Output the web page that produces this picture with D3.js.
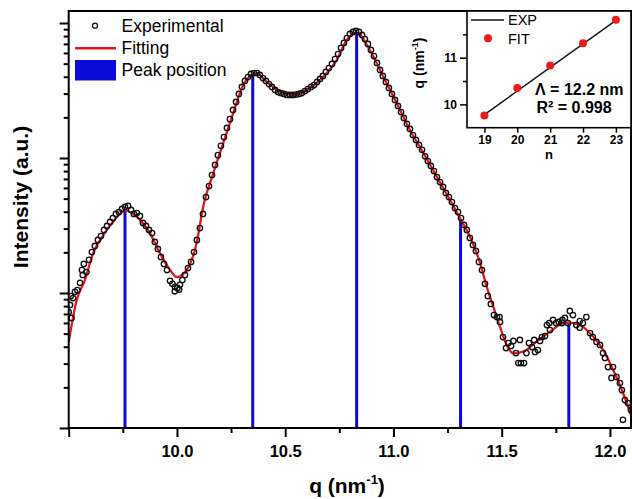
<!DOCTYPE html>
<html>
<head>
<meta charset="utf-8">
<script src="https://cdn.jsdelivr.net/npm/d3@7"></script>
<style>
  body { margin: 0; background: #fff; }
  svg { display: block; font-family: "Liberation Sans", Arial, sans-serif; }
  .axis path, .axis line { stroke: #000; }
</style>
</head>
<body>
<div id="board"></div>
<script>
// fitted curve (q in nm^-1, intensity a.u.)
var fitQ = [9.50, 9.537, 9.575, 9.613, 9.66, 9.706, 9.76, 9.829, 9.875, 9.921, 9.968, 10.0, 10.045, 10.091, 10.121,
  10.168, 10.214, 10.26, 10.306, 10.345, 10.368, 10.414, 10.476, 10.537, 10.599, 10.676, 10.738, 10.784, 10.83,
  10.891, 10.953, 11.015, 11.076, 11.138, 11.2, 11.261, 11.312, 11.353, 11.4, 11.431, 11.461, 11.492, 11.523,
  11.553, 11.6, 11.661, 11.723, 11.784, 11.807, 11.861, 11.908, 11.969, 12.015, 12.061, 12.1];
var fitI = [4.34, 8.87, 12.5, 19.8, 26.9, 33.8, 40.7, 34.8, 27.8, 19.8, 14.8, 13.1, 14.8, 23.5, 43.4,
  77.4, 129, 215, 347, 412, 424, 367, 310, 293, 319, 400, 532, 748, 847,
  631, 400, 255, 161, 109, 72.7, 48.9, 34.8, 26.1, 16.7, 11.1, 7.92, 5.63, 4.12,
  3.58, 3.68, 4.36, 5.17, 5.97, 6.03, 5.79, 5.03, 3.78, 2.69, 1.81, 1.21];

// experimental points
var expQ = [9.500, 9.506, 9.513, 9.520, 9.529, 9.540, 9.552, 9.561, 9.570, 9.582, 9.594, 9.607, 9.621, 9.635, 9.649,
  9.663, 9.677, 9.691, 9.704, 9.718, 9.732, 9.746, 9.760, 9.774, 9.788, 9.801, 9.815, 9.829, 9.843, 9.857,
  9.871, 9.885, 9.898, 9.912, 9.926, 9.940, 9.954, 9.968, 9.979, 9.991, 10.002, 10.014, 10.025, 10.037, 10.051,
  10.065, 10.079, 10.092, 10.106, 10.120, 10.134, 10.148, 10.162, 10.176, 10.189, 10.203, 10.217, 10.231, 10.245,
  10.259, 10.273, 10.286, 10.300, 10.314, 10.328, 10.342, 10.356, 10.370, 10.383, 10.397, 10.411, 10.425, 10.439,
  10.453, 10.467, 10.480, 10.494, 10.508, 10.522, 10.536, 10.550, 10.564, 10.577, 10.591, 10.605, 10.619, 10.633,
  10.647, 10.661, 10.674, 10.688, 10.702, 10.716, 10.730, 10.744, 10.758, 10.771, 10.785, 10.799, 10.813, 10.827,
  10.841, 10.855, 10.868, 10.882, 10.896, 10.910, 10.924, 10.938, 10.951, 10.965, 10.979, 10.993, 11.007, 11.021,
  11.035, 11.048, 11.062, 11.076, 11.090, 11.104, 11.118, 11.132, 11.146, 11.159, 11.173, 11.187, 11.201, 11.215,
  11.229, 11.242, 11.256, 11.270, 11.284, 11.298, 11.312, 11.326, 11.339, 11.353, 11.367, 11.381, 11.395, 11.409,
  11.423, 11.436, 11.450, 11.464, 11.478, 11.492, 11.506, 11.520, 11.531, 11.543, 11.554, 11.566, 11.577, 11.589,
  11.603, 11.614, 11.626, 11.640, 11.654, 11.667, 11.677, 11.686, 11.700, 11.709, 11.723, 11.737, 11.751, 11.764,
  11.778, 11.792, 11.806, 11.815, 11.829, 11.845, 11.861, 11.875, 11.891, 11.908, 11.921, 11.938, 11.954, 11.968,
  11.977, 11.991, 12.007, 12.014, 12.030, 12.046, 12.055, 12.069, 12.083, 12.060, 12.097,
  9.510, 9.565, 9.990, 10.010, 11.490, 11.584, 11.650, 11.720, 11.780, 11.860];
var expI = [7.23, 8.15, 6.53, 9.18, 10.2, 10.5, 11.9, 14.8, 16.4, 14.3, 17.6, 20.1, 22.3, 24.7, 26.4,
  29.3, 31.4, 33.6, 35.9, 38.5, 39.8, 41.9, 43.4, 44.1, 41.2, 38.5, 39.1, 37.2, 33.0, 31.4,
  29.3, 27.8, 23.9, 21.2, 18.5, 16.4, 14.8, 12.3, 11.7, 11.1, 10.9, 11.5, 12.5, 13.6, 15.3,
  17.0, 20.1, 24.7, 30.3, 38.5, 51.4, 62.0, 74.8, 88.8, 105, 123, 143, 167, 194,
  227, 260, 298, 336, 372, 398, 419, 426, 426, 412, 391, 372, 353, 336,
  319, 308, 303, 298, 293, 293, 293, 295, 298, 303, 313, 324, 336, 347,
  366, 385, 405, 434, 464, 497, 541, 589, 653, 711, 774, 829, 858, 873,
  858, 815, 761, 699, 631, 569, 506, 449, 405, 366, 330, 298, 269, 243,
  219, 198, 179, 164, 148, 136, 125, 115, 103, 95.0, 87.3, 80.1, 72.3, 66.4,
  61.0, 55.1, 51.4, 47.2, 42.6, 39.8, 35.9, 31.9, 29.3, 25.6, 22.7, 20.5, 17.0, 14.8,
  11.7, 9.50, 8.29, 6.87, 6.64, 6.10, 4.72, 3.91, 4.26, 4.05, 4.41, 3.59, 3.03, 3.03,
  3.03, 3.59, 4.26, 3.98, 3.66, 3.78, 4.41, 4.72, 4.80, 5.79, 5.32, 6.31, 5.99, 6.10,
  5.99, 6.53, 5.99, 7.36, 6.87, 5.79, 6.20, 5.99, 6.64, 5.05, 4.72, 4.34, 4.12, 3.59,
  3.30, 2.83, 2.35, 2.83, 2.39, 2.15, 1.91, 1.61, 1.53, 1.15, 1.36,
  9.50, 13.6, 10.3, 10.6, 6.64, 4.49, 4.49, 5.99, 6.31, 5.53];

// peak positions
var peakQ = [9.76, 10.35, 10.83, 11.31, 11.81];
var peakI = [40.7, 412, 847, 34.8, 6.0];

// inset: q vs order n
var insetN = [19, 20, 21, 22, 23];
var insetQ = [9.76, 10.35, 10.83, 11.31, 11.81];
var lineN = [19, 23];
var lineQ = [9.78, 11.80];

// ticks
var xMajor = [9.5, 10.0, 10.5, 11.0, 11.5, 12.0];
var xMinor = [9.75, 10.25, 10.75, 11.25, 11.75];
var yMajor = [1, 10, 100, 1000];
var yMinor = [2, 3, 4, 5, 6, 7, 8, 9, 20, 30, 40, 50, 60, 70, 80, 90, 200, 300, 400, 500, 600, 700, 800, 900];
var inYMajor = [10, 11];
var inYMinor = [10.5, 11.5];
var inXMajor = [19, 20, 21, 22, 23];

(function() {
  "use strict";

  var width = 632, height = 499;
  var mLeft = 68.7, mRight = 631, mTop = 11, mBottom = 428;
  var red = '#e8141a', blue = '#0b0bd6';

  var svg = d3.select('#board').append('svg')
    .attr('width', width)
    .attr('height', height);

  var x = d3.scaleLinear().domain([9.5, 12.1]).range([mLeft, 631.6]);
  var y = d3.scaleLog().domain([1, 1227]).range([mBottom, mTop]);

  svg.append('clipPath').attr('id', 'clip')
    .append('rect')
    .attr('x', mLeft).attr('y', mTop)
    .attr('width', mRight - mLeft).attr('height', mBottom - mTop);

  var plot = svg.append('g').attr('clip-path', 'url(#clip)');

  // blue peak markers
  plot.selectAll('line.peak')
    .data(peakQ)
    .enter().append('line')
    .attr('class', 'peak')
    .attr('x1', function(d) { return x(d); })
    .attr('x2', function(d) { return x(d); })
    .attr('y1', y(1))
    .attr('y2', function(d, i) { return y(peakI[i]); })
    .attr('stroke', blue)
    .attr('stroke-width', 3);

  // red fit
  var fitData = fitQ.map(function(q, i) { return [q, fitI[i]]; });
  plot.append('path')
    .datum(fitData)
    .attr('fill', 'none')
    .attr('stroke', red)
    .attr('stroke-width', 2.3)
    .attr('d', d3.line()
      .x(function(d) { return x(d[0]); })
      .y(function(d) { return y(d[1]); })
      .curve(d3.curveMonotoneX));

  // open circles
  plot.selectAll('circle.exp')
    .data(expQ)
    .enter().append('circle')
    .attr('class', 'exp')
    .attr('cx', function(d) { return x(d); })
    .attr('cy', function(d, i) { return y(expI[i]); })
    .attr('r', 2.7)
    .attr('fill', 'none')
    .attr('stroke', '#111')
    .attr('stroke-width', 1.35);

  // axes
  var gx = svg.append('g').attr('class', 'axis')
    .attr('transform', 'translate(0,' + mBottom + ')');
  gx.call(d3.axisBottom(x).tickValues(xMinor).tickSize(5).tickFormat(''));
  var gx2 = svg.append('g').attr('class', 'axis')
    .attr('transform', 'translate(0,' + mBottom + ')');
  gx2.call(d3.axisBottom(x).tickValues(xMajor).tickSize(9).tickPadding(8)
    .tickFormat(function(d) { return d === 9.5 ? '' : d3.format('.1f')(d); }));

  var gy = svg.append('g').attr('class', 'axis')
    .attr('transform', 'translate(' + mLeft + ',0)');
  gy.call(d3.axisLeft(y).tickValues(yMinor).tickSize(5).tickFormat(''));
  var gy2 = svg.append('g').attr('class', 'axis')
    .attr('transform', 'translate(' + mLeft + ',0)');
  gy2.call(d3.axisLeft(y).tickValues(yMajor).tickSize(9).tickFormat(''));

  svg.selectAll('.axis path').remove();
  svg.selectAll('.axis line').attr('stroke-width', 2);
  gx2.selectAll('text')
    .attr('fill', '#000')
    .attr('font-size', '16.5px')
    .attr('font-weight', 'bold')
    .attr('font-family', '"Liberation Sans", Arial, sans-serif');

  // frame
  svg.append('rect')
    .attr('x', mLeft).attr('y', mTop)
    .attr('width', mRight - mLeft).attr('height', mBottom - mTop)
    .attr('fill', 'none')
    .attr('stroke', '#000')
    .attr('stroke-width', 2);

  // titles
  var xt = svg.append('text')
    .attr('x', 347).attr('y', 493)
    .attr('text-anchor', 'middle')
    .attr('font-size', '21px')
    .attr('font-weight', 'bold')
    .text('q (nm');
  xt.append('tspan').attr('font-size', '13px').attr('dy', -9).text('-1');
  xt.append('tspan').attr('dy', 9).text(')');

  svg.append('text')
    .attr('transform', 'translate(28,197) rotate(-90)')
    .attr('text-anchor', 'middle')
    .attr('font-size', '21px')
    .attr('font-weight', 'bold')
    .text('Intensity (a.u.)');

  // legend
  var lg = svg.append('g').attr('font-size', '17.5px');
  lg.append('circle').attr('cx', 95).attr('cy', 25.7).attr('r', 2.5)
    .attr('fill', 'none').attr('stroke', '#111').attr('stroke-width', 1.3);
  lg.append('text').attr('x', 121.5).attr('y', 31.7).text('Experimental');
  lg.append('line').attr('x1', 75).attr('x2', 116).attr('y1', 48.3).attr('y2', 48.3)
    .attr('stroke', red).attr('stroke-width', 2.5);
  lg.append('text').attr('x', 121.5).attr('y', 53.7).text('Fitting');
  lg.append('rect').attr('x', 75).attr('y', 60).attr('width', 41).attr('height', 20.5)
    .attr('fill', blue);
  lg.append('text').attr('x', 121.5).attr('y', 75.7).text('Peak position');

  // ---- inset ----
  var inL = 467, inR = 631, inT = 11, inB = 127.7;
  var xi = d3.scaleLinear().domain([18.47, 23.46]).range([inL, inR]);
  var yi = d3.scaleLinear().domain([9.5, 12]).range([inB, inT]);

  var inset = svg.append('g');
  inset.append('rect')
    .attr('x', inL).attr('y', inT)
    .attr('width', inR - inL).attr('height', inB - inT)
    .attr('fill', '#fff');

  var ix = inset.append('g').attr('class', 'axis')
    .attr('transform', 'translate(0,' + inB + ')');
  ix.call(d3.axisBottom(xi).tickValues(inXMajor).tickSize(5).tickPadding(3)
    .tickFormat(d3.format('d')));
  var iy = inset.append('g').attr('class', 'axis')
    .attr('transform', 'translate(' + inL + ',0)');
  iy.call(d3.axisLeft(yi).tickValues(inYMinor).tickSize(4).tickFormat(''));
  var iy2 = inset.append('g').attr('class', 'axis')
    .attr('transform', 'translate(' + inL + ',0)');
  iy2.call(d3.axisLeft(yi).tickValues(inYMajor).tickSize(7).tickPadding(3)
    .tickFormat(d3.format('d')));
  inset.selectAll('.axis path').remove();
  inset.selectAll('.axis line').attr('stroke-width', 1.5);
  inset.selectAll('.axis text')
    .attr('fill', '#000')
    .attr('font-size', '12px')
    .attr('font-weight', 'bold')
    .attr('font-family', '"Liberation Sans", Arial, sans-serif');

  inset.append('rect')
    .attr('x', inL).attr('y', inT)
    .attr('width', inR - inL).attr('height', inB - inT)
    .attr('fill', 'none')
    .attr('stroke', '#000')
    .attr('stroke-width', 1.6);

  var lineData = lineN.map(function(n, i) { return [n, lineQ[i]]; });
  inset.append('path')
    .datum(lineData)
    .attr('fill', 'none')
    .attr('stroke', '#111')
    .attr('stroke-width', 1.4)
    .attr('d', d3.line()
      .x(function(d) { return xi(d[0]); })
      .y(function(d) { return yi(d[1]); }));

  inset.selectAll('circle.fit')
    .data(insetN)
    .enter().append('circle')
    .attr('class', 'fit')
    .attr('cx', function(d) { return xi(d); })
    .attr('cy', function(d, i) { return yi(insetQ[i]); })
    .attr('r', 4)
    .attr('fill', '#f01818');

  // inset legend + labels
  inset.append('line').attr('x1', 471).attr('x2', 504).attr('y1', 20).attr('y2', 20)
    .attr('stroke', '#111').attr('stroke-width', 1.5);
  inset.append('text').attr('x', 508).attr('y', 25).attr('font-size', '14.5px').text('EXP');
  inset.append('circle').attr('cx', 488).attr('cy', 38.3).attr('r', 4).attr('fill', '#f01818');
  inset.append('text').attr('x', 508).attr('y', 44).attr('font-size', '14.5px').text('FIT');

  inset.append('text').attr('x', 535).attr('y', 95)
    .attr('font-size', '16px').attr('font-weight', 'bold')
    .text('\u039B = 12.2 nm');
  inset.append('text').attr('x', 536.5).attr('y', 112.5)
    .attr('font-size', '16px').attr('font-weight', 'bold')
    .text('R\u00B2 = 0.998');

  inset.append('text').attr('x', 549).attr('y', 159)
    .attr('text-anchor', 'middle')
    .attr('font-size', '13px').attr('font-weight', 'bold')
    .text('n');

  var iyt = inset.append('text')
    .attr('transform', 'translate(424,63) rotate(-90)')
    .attr('text-anchor', 'middle')
    .attr('font-size', '14px')
    .attr('font-weight', 'bold')
    .text('q (nm');
  iyt.append('tspan').attr('font-size', '9px').attr('dy', -6).text('-1');
  iyt.append('tspan').attr('dy', 6).text(')');
})();
</script>
</body>
</html>
